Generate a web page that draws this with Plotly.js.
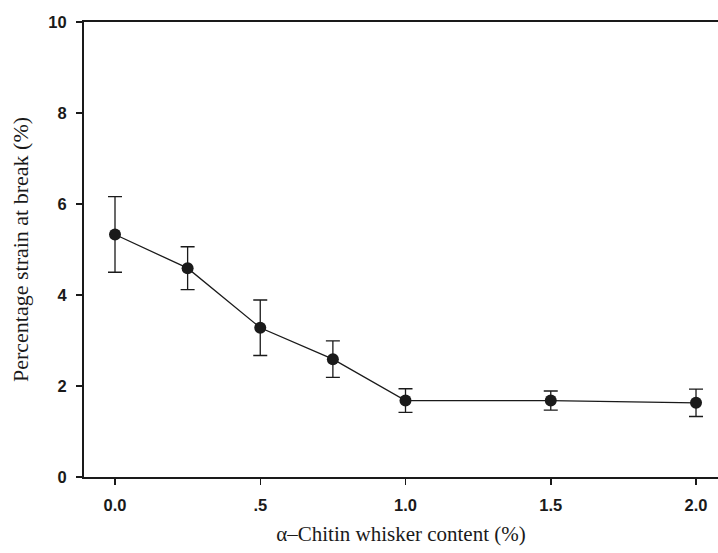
<!DOCTYPE html>
<html>
<head>
<meta charset="utf-8">
<script src="https://cdn.plot.ly/plotly-3.0.1.min.js"></script>
<style>
  html, body { margin: 0; padding: 0; background: #fff; }
  #chart { width: 718px; height: 553px; }
</style>
</head>
<body>
<div id="chart"></div>
<script>
// Whisker content (%) and strain at break (%) with standard deviations
const content = [0, 0.25, 0.5, 0.75, 1.0, 1.5, 2.0];
const strain = [5.33, 4.59, 3.28, 2.59, 1.68, 1.68, 1.63];
const strainSD = [0.83, 0.47, 0.61, 0.40, 0.26, 0.21, 0.30];

const xTickVals = [0, 0.5, 1.0, 1.5, 2.0];
const xTickText = ['0.0', '.5', '1.0', '1.5', '2.0'];
const yTickVals = [0, 2, 4, 6, 8, 10];

const ink = '#1a1a1a';

const trace = {
  x: content,
  y: strain,
  type: 'scatter',
  mode: 'lines+markers',
  line: { color: ink, width: 1.3 },
  marker: { color: ink, size: 12 },
  error_y: {
    type: 'data',
    array: strainSD,
    visible: true,
    color: ink,
    thickness: 1.3,
    width: 7
  },
  showlegend: false,
  cliponaxis: false
};

const tickFont = { family: 'Liberation Sans, Arial, sans-serif', size: 16.5, color: ink, weight: 'bold' };

const layout = {
  width: 718,
  height: 553,
  margin: { l: 84, r: 0, t: 22, b: 76 },
  paper_bgcolor: '#fff',
  plot_bgcolor: '#fff',
  xaxis: {
    range: [-0.1067, 2.0757],
    tickvals: xTickVals,
    ticktext: xTickText,
    ticks: 'outside',
    ticklen: 6,
    tickwidth: 1.5,
    tickcolor: ink,
    ticklabelstandoff: 6,
    showline: true,
    linecolor: ink,
    linewidth: 2,
    mirror: true,
    showgrid: false,
    zeroline: false,
    tickfont: tickFont,
    title: {
      text: 'α–Chitin whisker content (%)',
      font: { family: 'Liberation Serif, Times New Roman, serif', size: 21, color: ink },
      standoff: 14
    }
  },
  yaxis: {
    range: [0, 10],
    tickvals: yTickVals,
    ticks: 'outside',
    ticklen: 6,
    tickwidth: 1.5,
    tickcolor: ink,
    ticklabelstandoff: 6,
    showline: true,
    linecolor: ink,
    linewidth: 2,
    showgrid: false,
    zeroline: false,
    tickfont: tickFont,
    title: {
      text: 'Percentage strain at break (%)',
      font: { family: 'Liberation Serif, Times New Roman, serif', size: 22, color: ink },
      standoff: 14
    }
  }
};

Plotly.newPlot('chart', [trace], layout, { displayModeBar: false, staticPlot: true });
</script>
</body>
</html>
